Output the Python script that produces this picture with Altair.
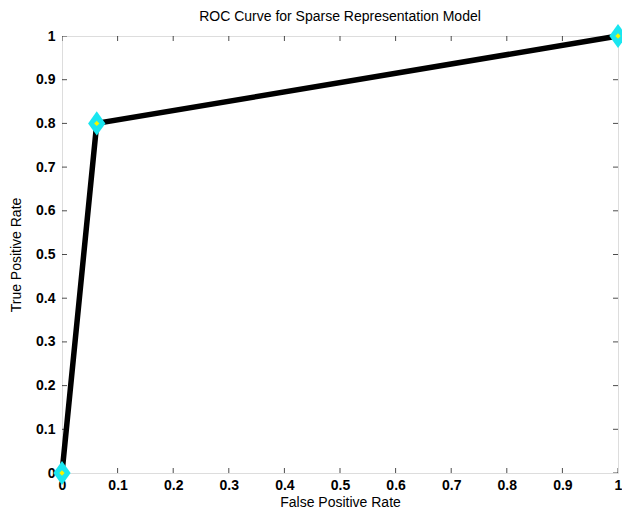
import altair as alt
import pandas as pd

fpr = [0.0, 0.0625, 1.0]
tpr = [0.0, 0.8, 1.0]
tick_vals = [0, 0.1, 0.2, 0.3, 0.4, 0.5, 0.6, 0.7, 0.8, 0.9, 1.0]

df = pd.DataFrame({"fpr": fpr, "tpr": tpr})
ticks = pd.DataFrame({"t": tick_vals})

W, H = 556, 437
FONT = "Liberation Sans"
xscale = alt.Scale(domain=[0, 1], nice=False, zero=False)
yscale = alt.Scale(domain=[0, 1], nice=False, zero=False)

xax = alt.Axis(values=tick_vals, format="~g", ticks=False, domain=False, grid=False,
               labelFont=FONT, labelFontSize=14, labelFontWeight="bold", labelColor="black",
               labelPadding=5, labelFlush=False, title="False Positive Rate",
               titleFont=FONT, titleFontSize=14, titleFontWeight="normal", titleColor="black",
               titlePadding=3)
yax = alt.Axis(values=tick_vals, format="~g", ticks=False, domain=False, grid=False,
               labelFont=FONT, labelFontSize=14, labelFontWeight="bold", labelColor="black",
               labelPadding=7, labelFlush=False, title="True Positive Rate",
               titleFont=FONT, titleFontSize=14, titleFontWeight="normal", titleColor="black",
               titlePadding=12)

line = alt.Chart(df).mark_line(color="black", strokeWidth=5.5).encode(
    x=alt.X("fpr:Q", scale=xscale, axis=xax),
    y=alt.Y("tpr:Q", scale=yscale, axis=yax),
)

diamond = "M0,-1.4L1,0L0,1.4L-1,0Z"
pts = alt.Chart(df).mark_point(shape=diamond, filled=True, color="#19e6f0", size=300, opacity=1).encode(
    x="fpr:Q", y="tpr:Q")
centers = alt.Chart(df).mark_point(shape="diamond", filled=True, color="#f5f500", size=28, opacity=1).encode(
    x="fpr:Q", y="tpr:Q")

tb = alt.Chart(ticks).mark_tick(color="black", size=10, thickness=1, clip=True, orient="vertical").encode(
    x="t:Q", y=alt.value(H))
tt = alt.Chart(ticks).mark_tick(color="black", size=10, thickness=1, clip=True, orient="vertical").encode(
    x="t:Q", y=alt.value(0))
tl = alt.Chart(ticks).mark_tick(color="black", size=10, thickness=1, clip=True, orient="horizontal").encode(
    y="t:Q", x=alt.value(0))
tr = alt.Chart(ticks).mark_tick(color="black", size=10, thickness=1, clip=True, orient="horizontal").encode(
    y="t:Q", x=alt.value(W))

chart = alt.layer(tb, tt, tl, tr, line, pts, centers).properties(
    width=W, height=H,
    title=alt.TitleParams("ROC Curve for Sparse Representation Model", font=FONT, fontSize=14,
                          fontWeight="normal", color="black", offset=0),
    autosize=alt.AutoSizeParams(type="none"),
    padding={"left": 54, "top": 28, "right": 4, "bottom": 39},
).configure_view(stroke="black", strokeWidth=1.5).configure(background="white")

chart.save("out.html", embed_options={"renderer": "svg", "actions": False})
